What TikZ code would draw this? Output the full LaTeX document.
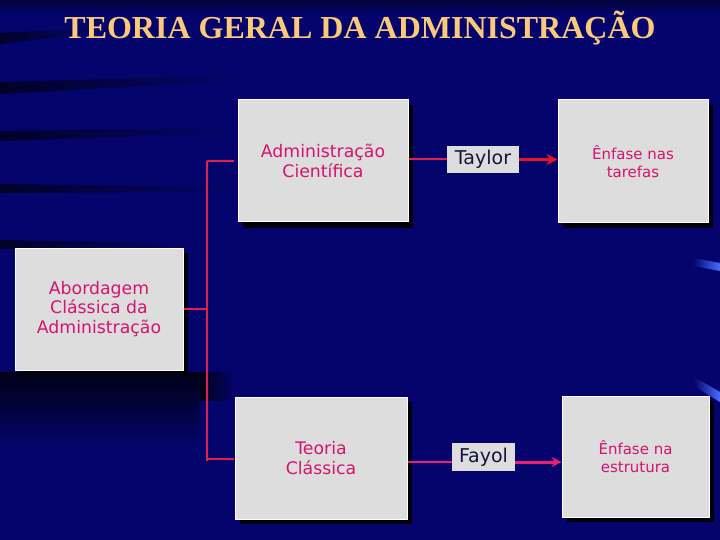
\documentclass[tikz,border=0pt]{standalone}
\usepackage{fontspec}
\setmainfont{DejaVu Sans}
\newfontfamily\titlefont{Liberation Serif}
\usetikzlibrary{arrows.meta,calc}
\definecolor{bgnavy}{RGB}{4,4,108}
\definecolor{boxgray}{RGB}{221,221,221}
\definecolor{txtpink}{RGB}{214,20,110}
\definecolor{linered}{RGB}{225,30,80}
\definecolor{arrred}{RGB}{235,18,36}
\definecolor{arrpink}{RGB}{236,30,115}
\definecolor{titlegold}{RGB}{250,202,122}
\definecolor{navytxt}{RGB}{20,20,60}
\definecolor{streakblue}{RGB}{70,110,255}
\definecolor{shadowcol}{RGB}{0,0,10}
\definecolor{streakdark}{RGB}{2,2,40}
\tikzset{
  bigbox/.style={fill=boxgray, draw=white, line width=1pt, inner sep=2pt, align=center,
    text=txtpink, font=\fontsize{17.3}{19.5}\selectfont},
  smallbox/.style={fill=boxgray, draw=none, inner sep=0pt, text=navytxt,
    font=\fontsize{19}{21}\selectfont},
  conn/.style={draw=linered, line width=1.2pt},
  thickconn/.style={draw=linered, line width=2pt},
  shadowbox/.style={fill=shadowcol},
  darkstreak/.style={left color=streakdark, right color=bgnavy}
}
\begin{document}
\begin{tikzpicture}[x=1pt,y=-1pt]
% background
\fill[bgnavy] (0,0) rectangle (720,540);
\useasboundingbox (0,0) rectangle (720,540);
\shade[top color=black!45!bgnavy, bottom color=bgnavy] (0,0) rectangle (720,14);
% dark streaks on the left
\shade[darkstreak] (0,33) -- (100,28) -- (100,32) -- (0,44) -- cycle;
\shade[darkstreak] (0,82) -- (250,75) -- (250,80) -- (0,94) -- cycle;
\shade[darkstreak] (0,131) -- (240,128) -- (240,133) -- (0,141) -- cycle;
\shade[darkstreak] (0,184) -- (240,187) -- (240,192) -- (0,193) -- cycle;
\shade[darkstreak] (0,240) -- (200,244) -- (200,248) -- (0,249) -- cycle;
\shade[top color=black!80!bgnavy, bottom color=bgnavy] (0,372) rectangle (200,448);
\shade[left color=black!80!bgnavy, right color=bgnavy] (200,372) rectangle (235,400);
% light streaks on the right
\shade[left color=bgnavy, right color=streakblue] (693,258) -- (720,263) -- (720,271) -- (693,266) -- cycle;
\shade[left color=bgnavy, right color=streakblue] (694,377) -- (720,392) -- (720,402) -- (694,386) -- cycle;
% title
\node[text=titlegold, font=\titlefont\bfseries\fontsize{32}{36}\selectfont] (title) at (360,28) {TEORIA GERAL DA ADMINISTRAÇÃO};
% shadows
\fill[shadowbox] (243,105) rectangle (413,228);
\fill[shadowbox] (563,105) rectangle (713,228);
\fill[shadowbox] (20,253) rectangle (188,375);
\fill[shadowbox] (240,402) rectangle (412,524);
\fill[shadowbox] (567,401) rectangle (714,522);
% nodes
\node[bigbox, minimum width=170pt, minimum height=122pt] (ac) at (323,161) {Administração\\Científica};
\node[bigbox, minimum width=150pt, minimum height=123pt, font=\fontsize{15}{17.5}\selectfont] (et) at (633,161.5) {Ênfase nas\\tarefas};
\node[bigbox, minimum width=168pt, minimum height=122pt] (ab) at (99,309) {Abordagem\\Clássica da\\Administração};
\node[bigbox, minimum width=172pt, minimum height=122pt] (tc) at (321,458) {Teoria\\Clássica};
\node[bigbox, minimum width=147pt, minimum height=121pt, font=\fontsize{15}{17.5}\selectfont] (ee) at (635.5,456.5) {Ênfase na\\estrutura};
\node[smallbox, minimum width=72pt, minimum height=27pt] (taylor) at (483,159.5) {Taylor};
\node[smallbox, minimum width=63pt, minimum height=28pt] (fayol) at (483.5,457) {Fayol};
% connectors
\coordinate (jm) at (207,309);
\coordinate (jt) at (207,161);
\coordinate (jb) at (207,461);
\coordinate (at) at (234,161);
\coordinate (ab2) at (234,459);
\draw[conn] (ab.east) -- (jm);
\draw[conn] (jt) -- (jb);
\draw[conn] (jt) -- (at);
\draw[conn] (207,459) -- (ab2);
\draw[thickconn] (ac.east |- taylor.west) -- (taylor.west);
\draw[thickconn, draw=arrred, line width=2.4pt, -{Stealth[length=11pt,width=11pt]}] (taylor.east) -- (et.west |- taylor.east);
\draw[conn, draw=arrpink] (tc.east |- 0,462) -- (fayol.west |- 0,462);
\draw[thickconn, draw=arrpink, line width=3pt, -{Stealth[length=10pt,width=10pt]}] (fayol.east |- 0,462) -- (ee.west |- 0,462);
\end{tikzpicture}
\end{document}
